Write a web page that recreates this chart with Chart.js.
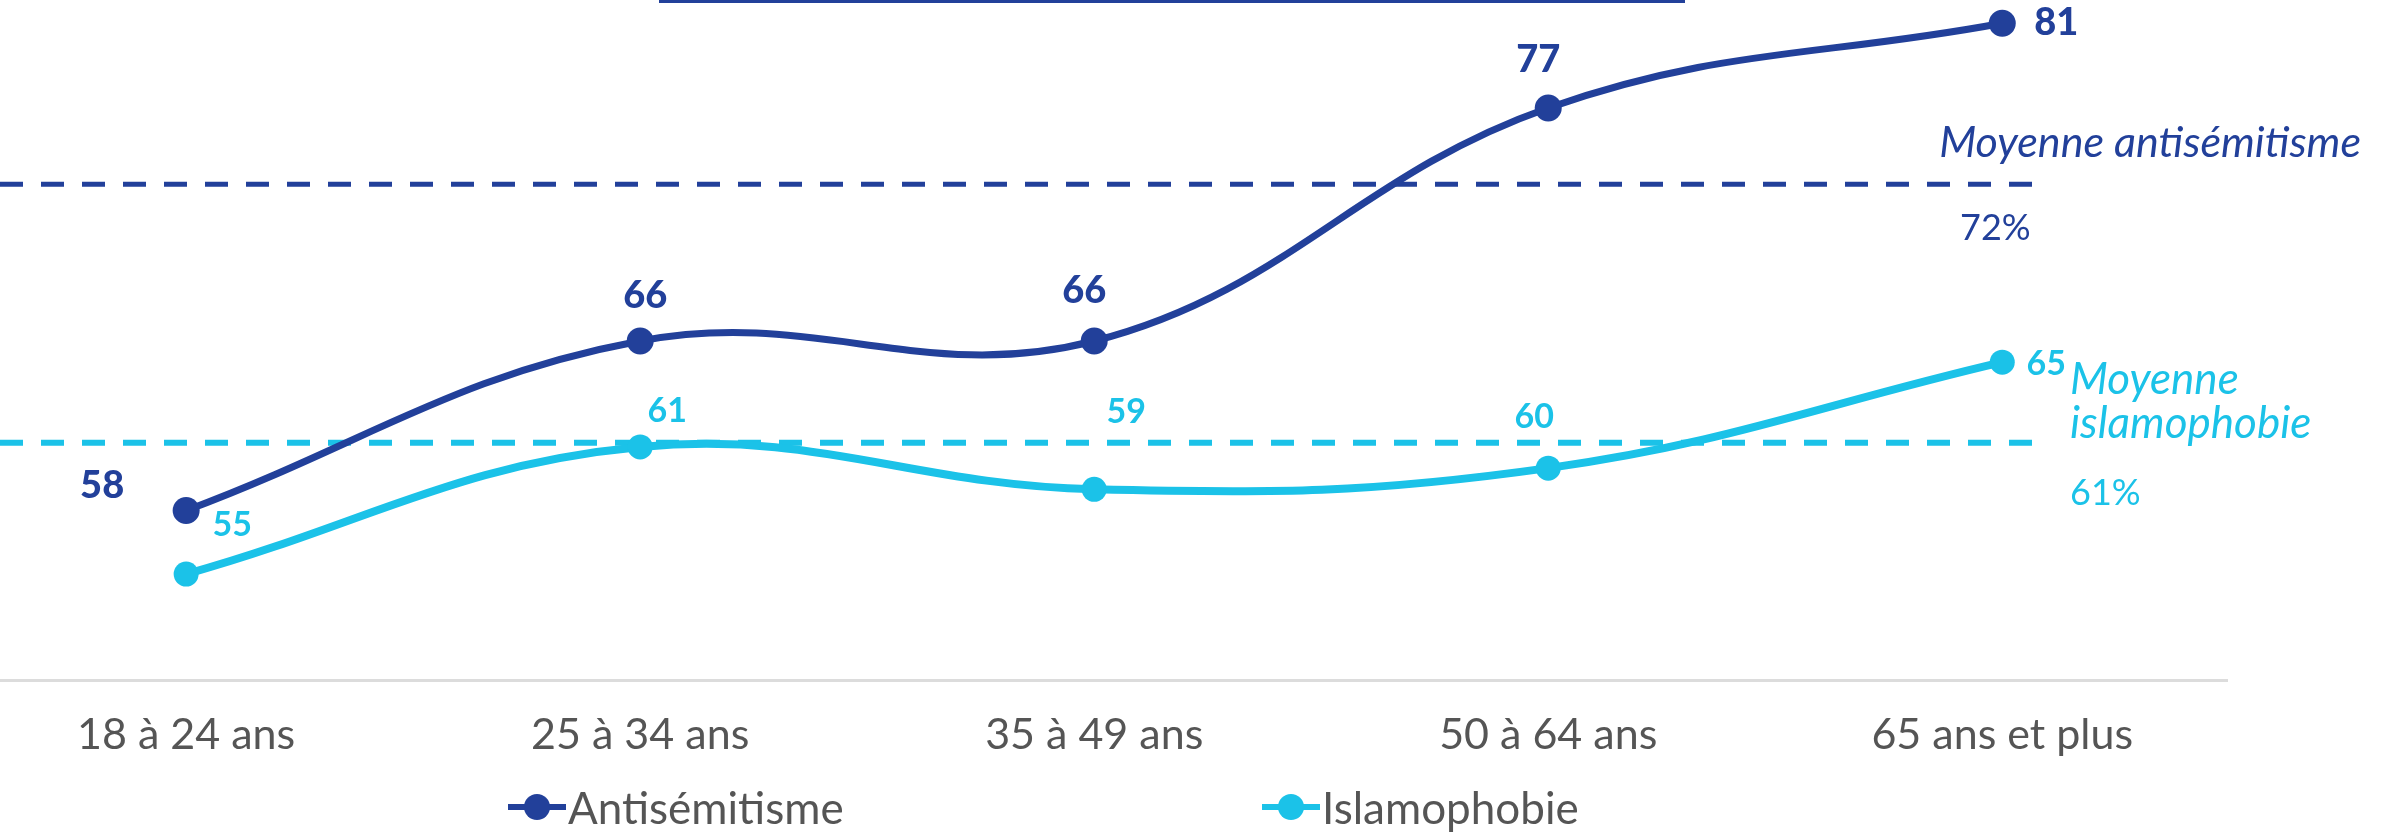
<!DOCTYPE html>
<html>
<head>
<meta charset="utf-8">
<script src="https://cdn.jsdelivr.net/npm/chart.js@4.4.0/dist/chart.umd.min.js"></script>
<style>
  body { margin: 0; background: #fff; font-family: Lato, sans-serif; }
  #wrap { position: relative; width: 2392px; height: 832px; overflow: hidden; }
  #myChart { display: block; }
  #topbar { position: absolute; left: 659px; top: 0; width: 1026px; height: 3px; background: #22409A; }
  .item { position: absolute; top: 781px; display: flex; align-items: center; font-size: 44px; color: #555; white-space: nowrap; }
  .mark { position: relative; width: 58px; height: 26px; margin-right: 2px; }
  .mark:before { content: ''; position: absolute; left: 0; right: 0; top: 10px; height: 6px; background: var(--c); }
  .mark:after { content: ''; position: absolute; left: 16px; top: 0; width: 26px; height: 26px; border-radius: 50%; background: var(--c); }
</style>
</head>
<body>
<div id="wrap">
  <canvas id="myChart" width="2392" height="832"></canvas>
  <div id="topbar"></div>
  <div class="item" style="left:508px"><span class="mark" style="--c:#22409A"></span>Antisémitisme</div>
  <div class="item" style="left:1262px"><span class="mark" style="--c:#1BC2E8"></span>Islamophobie</div>
</div>
<script>
// data
var categories = ['18 à 24 ans', '25 à 34 ans', '35 à 49 ans', '50 à 64 ans', '65 ans et plus']
var antisemitisme = [58, 66, 66, 77, 81]
var islamophobie = [55, 61, 59, 60, 65]
// average lines: where they are drawn, and what their labels say
var meanLevels = [73.4, 61.2]
var meanLabels = ['72%', '61%']

var DARK = '#22409A'
var CYAN = '#1BC2E8'
var xMin = -0.41, xMax = 4.495, meanEnd = 4.075

function pts(values) {
  return values.map((v, i) => ({x: i, y: v}))
}

// label offsets per point (pixels, from the point centre)
var labelOffsets = [
  [[-84, -25], [5, -45], [-10, -50], [-10, -48], [54, 0]],
  [[46, -49], [27, -36], [32, -77], [-14, -51], [44, 2]]
]

var pointLabels = {
  id: 'pointLabels',
  afterDatasetsDraw(chart) {
    const ctx = chart.ctx
    ctx.save()
    ctx.textAlign = 'center'
    ctx.textBaseline = 'middle'
    ;[0, 1].forEach((d) => {
      const meta = chart.getDatasetMeta(d)
      const ds = chart.data.datasets[d]
      ctx.fillStyle = ds.borderColor
      ctx.font = d === 0 ? '900 38px Lato' : 'bold 34px Lato'
      meta.data.forEach((pt, j) => {
        const off = labelOffsets[d][j]
        ctx.fillText(String(ds.data[j].y), pt.x + off[0], pt.y + off[1])
      })
    })

    // average labels
    const y = chart.scales.y, area = chart.chartArea
    const yA = y.getPixelForValue(meanLevels[0])
    const yI = y.getPixelForValue(meanLevels[1])
    ctx.textBaseline = 'alphabetic'
    ctx.fillStyle = DARK
    ctx.textAlign = 'right'
    ctx.font = 'italic 43px Lato'
    ctx.fillText('Moyenne antisémitisme', area.right + 134, yA - 27)
    ctx.textAlign = 'left'
    ctx.font = '36px Lato'
    ctx.fillText(meanLabels[0], area.right - 267, yA + 56)

    ctx.fillStyle = CYAN
    ctx.font = 'italic 44px Lato'
    ctx.fillText('Moyenne', area.right - 157, yI - 49)
    ctx.fillText('islamophobie', area.right - 157, yI - 5)
    ctx.font = '36px Lato'
    ctx.fillText(meanLabels[1], area.right - 157, yI + 62)
    ctx.restore()
  }
}

var ctx = document.getElementById('myChart')
var line = new Chart(ctx, {
  type: 'line',
  data: {
    datasets: [
      {
        label: 'Antisémitisme',
        data: pts(antisemitisme),
        borderColor: DARK,
        backgroundColor: DARK,
        borderWidth: 7,
        tension: 0.4,
        pointRadius: 13.5,
        pointBackgroundColor: DARK,
        pointBorderWidth: 0,
        clip: false,
        order: 1
      },
      {
        label: 'Islamophobie',
        data: pts(islamophobie),
        borderColor: CYAN,
        backgroundColor: CYAN,
        borderWidth: 8,
        tension: 0.4,
        pointRadius: 12.5,
        pointBackgroundColor: CYAN,
        pointBorderWidth: 0,
        clip: false,
        order: 1
      },
      {
        label: 'Moyenne antisémitisme',
        data: [{x: xMin, y: meanLevels[0]}, {x: meanEnd, y: meanLevels[0]}],
        borderColor: DARK,
        borderWidth: 5,
        borderDash: [23, 18],
        pointRadius: 0,
        order: 2
      },
      {
        label: 'Moyenne islamophobie',
        data: [{x: xMin, y: meanLevels[1]}, {x: meanEnd, y: meanLevels[1]}],
        borderColor: CYAN,
        borderWidth: 6,
        borderDash: [23, 18],
        pointRadius: 0,
        order: 2
      }
    ]
  },
  options: {
    responsive: false,
    devicePixelRatio: 1,
    animation: false,
    events: [],
    layout: {
      autoPadding: false,
      padding: {left: 0, right: 165, top: 2, bottom: 73}
    },
    scales: {
      x: {
        type: 'linear',
        min: xMin,
        max: xMax,
        afterFit: (scale) => { scale.height = 79 },
        grid: {display: false, drawTicks: false},
        border: {display: true, color: '#dcdcdc', width: 3},
        ticks: {
          stepSize: 1,
          includeBounds: false,
          autoSkip: false,
          maxRotation: 0,
          padding: 29,
          color: '#555',
          font: {family: 'Lato', size: 43},
          callback: (v) => Number.isInteger(v) ? categories[v] : ''
        }
      },
      y: {
        display: false,
        min: 50,
        max: 82
      }
    },
    plugins: {
      legend: {display: false},
      tooltip: {enabled: false}
    }
  },
  plugins: [pointLabels]
})
</script>
</body>
</html>
